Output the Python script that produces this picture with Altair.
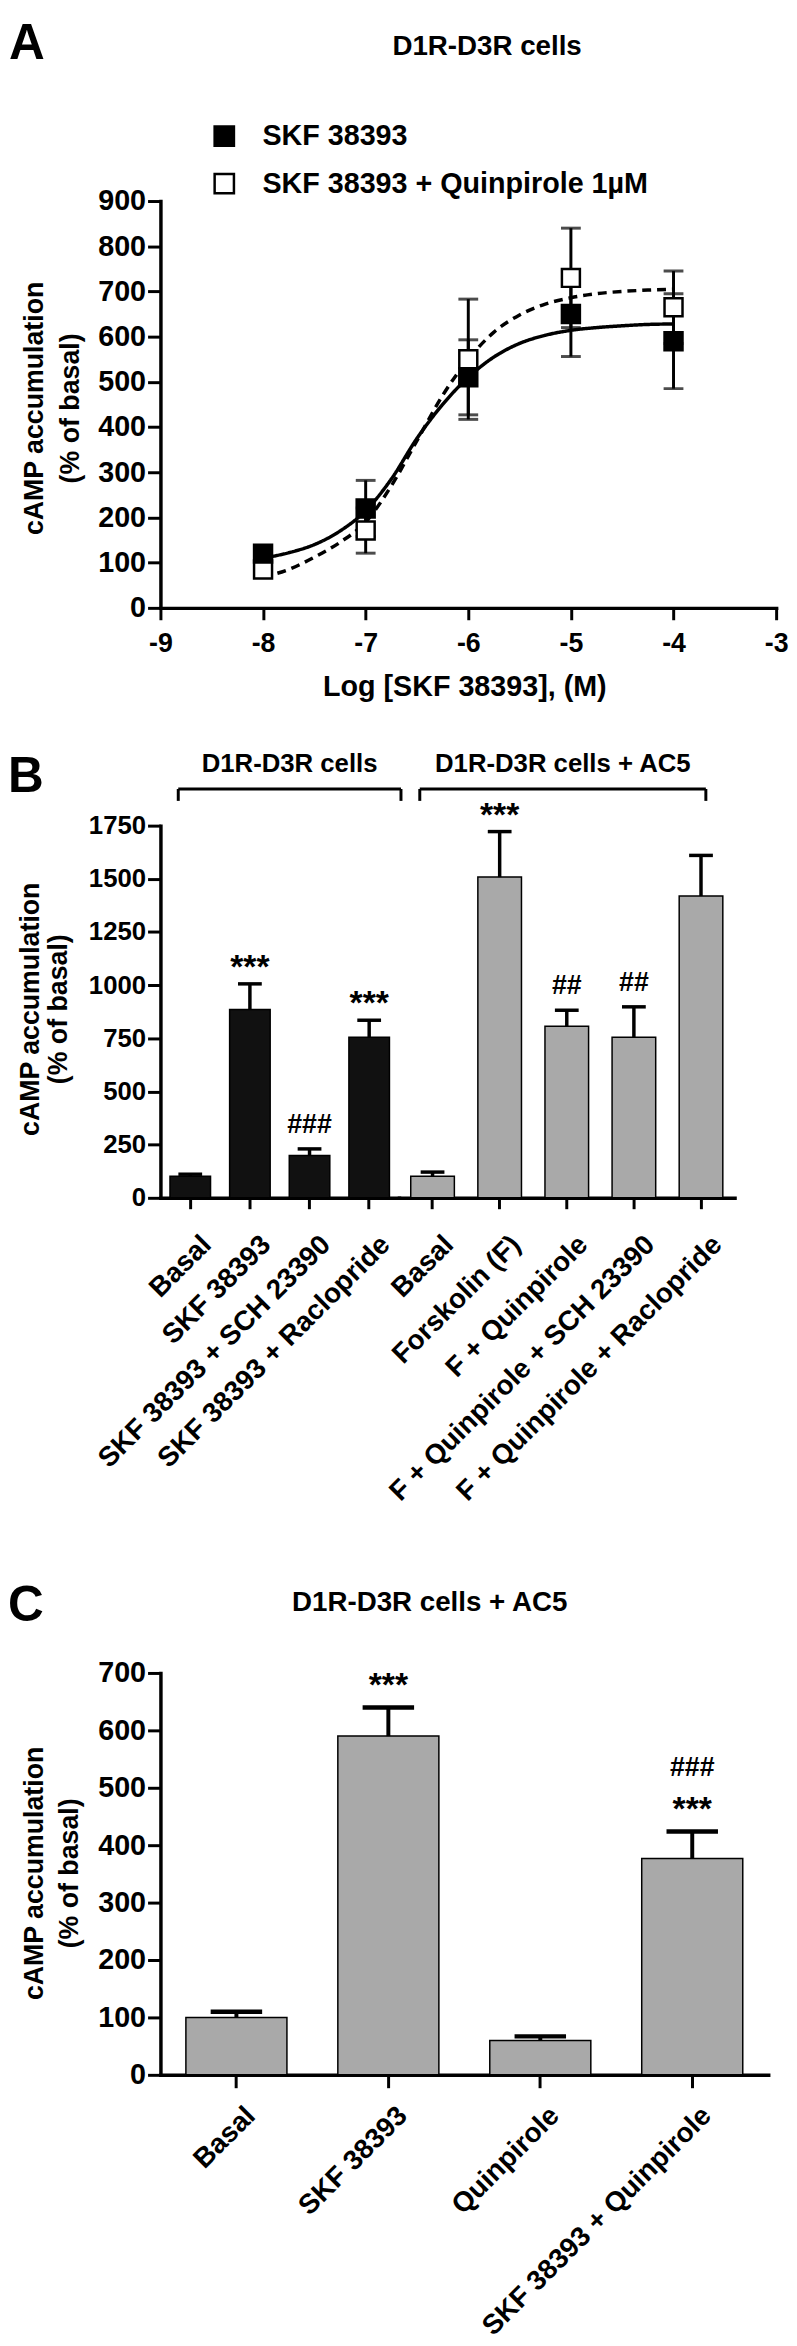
import altair as alt
import pandas as pd

FONT = "Liberation Sans, Arial, Helvetica, sans-serif"
GRAY = "#a9a9a9"
DARK = "#111111"

# ---------------- Panel A data ----------------
a_letter = "A"
a_title = "D1R-D3R cells"
a_series = ["SKF 38393", "SKF 38393 + Quinpirole 1µM"]
a_logx = [-8, -7, -6, -5, -4]
a_skf_mean = [120, 220, 510, 650, 590]
a_skf_err = [18, 62, 83, 94, 105]
a_quin_mean = [85, 171, 550, 730, 665]
a_quin_err = [15, 50, 133, 110, 80]
a_curve_x = [-8, -7.75, -7.5, -7.25, -7, -6.75, -6.5, -6.25, -6,
             -5.75, -5.5, -5.25, -5, -4.75, -4.5, -4.25, -4]
a_curve_skf = [110, 122, 140, 170, 215, 285, 375, 450, 510,
               555, 585, 603, 614, 620, 624, 627, 628]
a_curve_quin = [68, 85, 112, 145, 190, 270, 370, 470, 550,
                610, 648, 672, 686, 695, 700, 703, 705]
a_xticks = [-9, -8, -7, -6, -5, -4, -3]
a_yticks = [0, 100, 200, 300, 400, 500, 600, 700, 800, 900]
a_xtitle = "Log [SKF 38393], (M)"
y_title = ["cAMP accumulation", "(% of basal)"]

# ---------------- Panel B data ----------------
b_letter = "B"
b_groups = ["D1R-D3R cells", "D1R-D3R cells + AC5"]
b_left_cats = ["Basal", "SKF 38393", "SKF 38393 + SCH 23390", "SKF 38393 + Raclopride"]
b_left_mean = [101, 885, 199, 755]
b_left_err = [10, 121, 31, 80]
b_left_star = ["", "***", "", "***"]
b_left_hash = ["", "", "###", ""]
b_right_cats = ["Basal", "Forskolin (F)", "F + Quinpirole",
                "F + Quinpirole + SCH 23390", "F + Quinpirole + Raclopride"]
b_right_mean = [101, 1508, 807, 755, 1419]
b_right_err = [20, 214, 75, 143, 191]
b_right_star = ["", "***", "", "", ""]
b_right_hash = ["", "", "##", "##", ""]
b_yticks = [0, 250, 500, 750, 1000, 1250, 1500, 1750]

# ---------------- Panel C data ----------------
c_letter = "C"
c_title = "D1R-D3R cells + AC5"
c_cats = ["Basal", "SKF 38393", "Quinpirole", "SKF 38393 + Quinpirole"]
c_mean = [100, 590, 60, 377]
c_err = [10, 50, 7, 47]
c_star = ["", "***", "", "***"]
c_hash = ["", "", "", "###"]
c_yticks = [0, 100, 200, 300, 400, 500, 600, 700]

# ---------------- layout sizes ----------------
WA, HA = 622, 411
WBL, WBR, HB = 241, 339, 376
WC, HC = 614, 406
LEFT = -154

one = pd.DataFrame({"k": [0]})


def label(text, x, y, size, align="center", baseline="middle"):
    return alt.Chart(one).mark_text(
        text=text, font=FONT, fontSize=size, fontWeight="bold", color="black",
        align=align, baseline=baseline
    ).encode(x=alt.value(x), y=alt.value(y))


def rule(x, x2, y, y2=None, w=3):
    enc = dict(x=alt.value(x), y=alt.value(y))
    if x2 is not None:
        enc["x2"] = alt.value(x2)
    if y2 is not None:
        enc["y2"] = alt.value(y2)
    return alt.Chart(one).mark_rule(color="black", strokeWidth=w).encode(**enc)


def yaxis(values, fs, tx, ty, lh, tsize=13):
    return alt.Axis(values=values, format="d", title=y_title, tickSize=tsize, labelPadding=2,
                    labelFontSize=fs, titleFontSize=27, titleX=tx, titleY=ty,
                    titleBaseline="middle", titleAlign="center", titleAngle=-90,
                    titleLineHeight=lh, grid=False)


# ================= Panel A =================
n = len(a_logx)
pts = pd.DataFrame({
    "x": a_logx + a_logx,
    "mean": a_quin_mean + a_skf_mean,
    "err": a_quin_err + a_skf_err,
    "series": [a_series[1]] * n + [a_series[0]] * n,
})
pts["lo"] = pts["mean"] - pts["err"]
pts["hi"] = pts["mean"] + pts["err"]
m = len(a_curve_x)
curves = pd.DataFrame({
    "x": a_curve_x + a_curve_x,
    "y": a_curve_skf + a_curve_quin,
    "curve": ["fit1"] * m + ["fit2"] * m,
})

xA_scale = alt.Scale(domain=[-9, -3], nice=False)
yA_scale = alt.Scale(domain=[0, 900], nice=False)
xA_axis = alt.Axis(values=a_xticks, labelExpr="'' + datum.value", title=a_xtitle,
                   tickSize=12, labelPadding=11, labelFontSize=27, titleFontSize=29,
                   titleY=80, titleX=307, titleBaseline="middle", labelFlush=False,
                   labelOverlap=False, grid=False)
yA_axis = yaxis(a_yticks, 29, -127, 209, 36)

errA = alt.Chart(pts).mark_errorbar(
    ticks={"size": 20, "thickness": 3, "color": "black"}, thickness=3, color="black"
).encode(
    x=alt.X("x:Q", scale=xA_scale, axis=xA_axis),
    y=alt.Y("lo:Q", scale=yA_scale, axis=yA_axis),
    y2="hi:Q",
)
linesA = alt.Chart(curves).mark_line(color="black", strokeWidth=3.5, interpolate="monotone").encode(
    x=alt.X("x:Q", scale=xA_scale, axis=xA_axis),
    y=alt.Y("y:Q", scale=yA_scale, axis=yA_axis),
    strokeDash=alt.StrokeDash("curve:N", scale=alt.Scale(domain=["fit1", "fit2"], range=[[1, 0], [9, 6]]),
                              legend=None),
    detail="curve:N",
)
ptsA = alt.Chart(pts).mark_point(shape="square", size=330, filled=True, stroke="black",
                                 strokeWidth=2.5, opacity=1).encode(
    x=alt.X("x:Q", scale=xA_scale, axis=xA_axis),
    y=alt.Y("mean:Q", scale=yA_scale, axis=yA_axis),
    fill=alt.Fill("series:N", scale=alt.Scale(domain=a_series, range=["black", "white"]),
                  legend=alt.Legend(orient="none", legendX=50, legendY=-80, title=None,
                                    labelFont=FONT, labelFontSize=29, labelFontWeight="bold",
                                    labelColor="black", labelLimit=600, symbolType="square",
                                    symbolSize=380, symbolStrokeWidth=2.5,
                                    symbolStrokeColor="black", rowPadding=17,
                                    labelOffset=24, padding=0)),
)
chartA = alt.layer(
    errA, linesA, ptsA,
    label(a_letter, LEFT + 1, -183, 50, align="left", baseline="top"),
    label(a_title, 330, -156, 28),
).properties(width=WA, height=HA)

# ================= Panel B =================
yB_scale = alt.Scale(domain=[0, 1750], nice=False)
yB_axis = yaxis(b_yticks, 26, -131, 185, 28)


def bar_group(cats, mean, err, star, hsh, x0, x1, fill, pad, cap, ax, yscale, yax,
              star_dy, hash_dy, rule_w=3.5, cap_w=3.5):
    df = pd.DataFrame({"cat": cats, "val": mean,
                       "top": [a + b for a, b in zip(mean, err)],
                       "star": star, "hash": hsh})
    xs = alt.Scale(domain=cats, range=[x0, x1], paddingInner=pad, paddingOuter=pad / 2)
    xe = alt.X("cat:N", sort=cats, scale=xs, axis=ax)
    bars = alt.Chart(df).mark_bar(color=fill, stroke="black", strokeWidth=1.5).encode(
        x=xe, y=alt.Y("val:Q", scale=yscale, axis=yax))
    rl = alt.Chart(df).mark_rule(color="black", strokeWidth=rule_w).encode(
        x=xe, y=alt.Y("val:Q", scale=yscale, axis=yax), y2="top:Q")
    cp = alt.Chart(df).mark_tick(color="black", size=cap, thickness=cap_w, opacity=1).encode(
        x=xe, y=alt.Y("top:Q", scale=yscale, axis=yax))
    st = alt.Chart(df).mark_text(font=FONT, fontSize=34, fontWeight="bold", color="black",
                                 baseline="alphabetic", dy=star_dy).encode(
        x=xe, y=alt.Y("top:Q", scale=yscale, axis=yax), text="star:N")
    hs = alt.Chart(df).mark_text(font=FONT, fontSize=27, fontWeight="bold", color="black",
                                 baseline="alphabetic", dy=hash_dy).encode(
        x=xe, y=alt.Y("top:Q", scale=yscale, axis=yax), text="hash:N")
    return alt.layer(bars, rl, cp, st, hs)


def xaxis_cat(fs, pad, off, tsize):
    return alt.Axis(orient="bottom", title=None, labelAngle=-45, labelAlign="right",
                    labelBaseline="top", labelPadding=pad, labelOffset=off, tickSize=tsize,
                    labelFontSize=fs, labelLimit=800, labelOverlap=False, labelFlush=False,
                    grid=False)


leftB = bar_group(b_left_cats, b_left_mean, b_left_err, b_left_star, b_left_hash,
                  0, WBL, DARK, 0.32, 24, xaxis_cat(28, 22, 7, 11), yB_scale, yB_axis, -6, -16)
rightB = bar_group(b_right_cats, b_right_mean, b_right_err, b_right_star, b_right_hash,
                   WBL, WBL + WBR, GRAY, 0.35, 24, xaxis_cat(28, 22, 7, 11), yB_scale, yB_axis, -6, -16)

brL0, brL1 = 18, WBL + 2
brR0, brR1 = WBL + 21, WBL + WBR - 29
chartB = alt.layer(
    leftB, rightB,
    rule(brL0, brL1, -37), rule(brL0, None, -37, -25), rule(brL1, None, -37, -25),
    rule(brR0, brR1, -37), rule(brR0, None, -37, -25), rule(brR1, None, -37, -25),
    label(b_groups[0], (brL0 + brL1) / 2, -62, 26),
    label(b_groups[1], (brR0 + brR1) / 2, -62, 26),
    label(b_letter, LEFT, -74, 50, align="left", baseline="top"),
).resolve_scale(x="independent").properties(width=WBL + WBR, height=HB)

# spacer between B and C
spacer = alt.Chart(one).mark_point(opacity=0).encode(
    x=alt.value(0), y=alt.value(0)).properties(width=1, height=40)

# ================= Panel C =================
yC_scale = alt.Scale(domain=[0, 700], nice=False)
yC_axis = yaxis(c_yticks, 29, -127, 202, 35)
c_bars = bar_group(c_cats, c_mean, c_err, c_star, ["", "", "", ""], 0, WC, GRAY, 0.335, 52,
                   xaxis_cat(28, 14, 5, 13), yC_scale, yC_axis, -12, 0, rule_w=4, cap_w=4.5)
c_hash_df = pd.DataFrame({"cat": c_cats, "top": [a + b for a, b in zip(c_mean, c_err)], "hash": c_hash})
c_hash_layer = alt.Chart(c_hash_df).mark_text(font=FONT, fontSize=27, fontWeight="bold", color="black",
                                             baseline="alphabetic", dy=-56).encode(
    x=alt.X("cat:N", sort=c_cats,
            scale=alt.Scale(domain=c_cats, range=[0, WC], paddingInner=0.335, paddingOuter=0.1675),
            axis=xaxis_cat(28, 14, 5, 13)),
    y=alt.Y("top:Q", scale=yC_scale, axis=yC_axis), text="hash:N")

chartC = alt.layer(
    c_bars, c_hash_layer,
    label(c_letter, LEFT, -92, 50, align="left", baseline="top"),
    label(c_title, 272, -71, 28),
).properties(width=WC, height=HC)

chart = alt.vconcat(chartA, chartB, spacer, chartC, spacing=220, bounds="flush").properties(
    padding=0
).configure_view(stroke=None).configure_axis(
    grid=False, domainColor="black", tickColor="black", labelColor="black", titleColor="black",
    labelFont=FONT, titleFont=FONT, labelFontWeight="bold", titleFontWeight="bold",
    domainWidth=3.5, tickWidth=3, domainCap="square"
)

chart.save("out.html", embed_options={"renderer": "svg", "actions": False})
